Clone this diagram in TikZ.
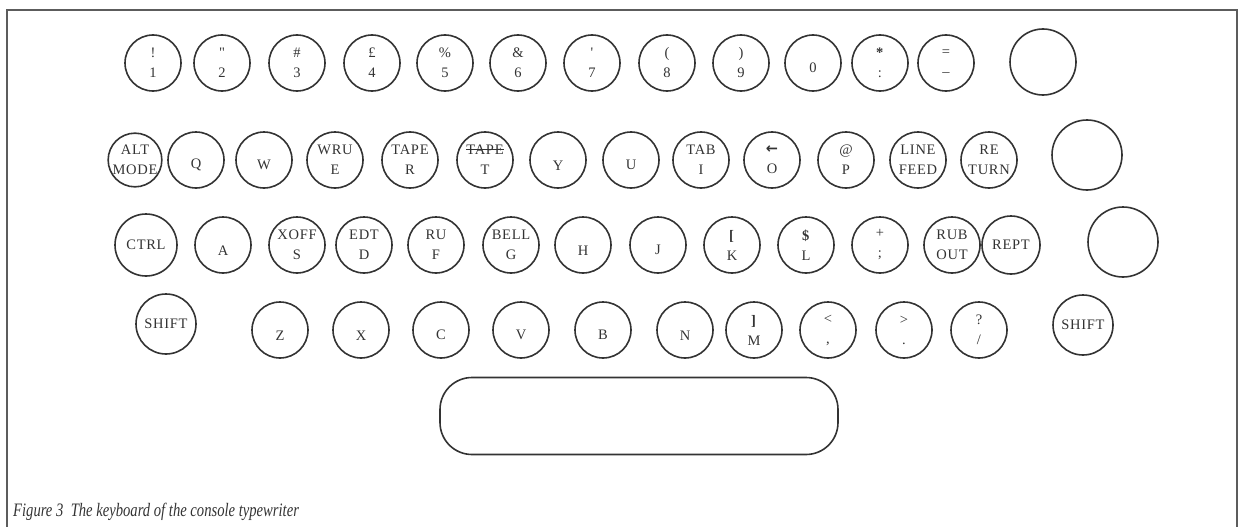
\documentclass[tikz,border=0pt]{standalone}
\usepackage{fontspec}
\usepackage{graphicx}
\setmainfont{Liberation Serif}
\newfontfamily\keyfont[LetterSpace=5]{Liberation Serif}
\newfontfamily\symfont{DejaVu Sans}
\usetikzlibrary{positioning}
\definecolor{ink}{HTML}{333333}
% line through the label of the T key
\newcommand\struckout[1]{\setbox0\hbox{#1}\rlap{\raisebox{0.32em}{\rule{\wd0}{0.8pt}}}\box0}

\begin{document}
\begin{tikzpicture}[x=1pt, y=-1pt,
    key/.style={circle, draw=ink, line width=1.6pt, minimum size=56pt, inner sep=0pt,
                align=center, text=ink, font=\keyfont\fontsize{14.5}{20}\selectfont},
    bigkey/.style={key, minimum size=68pt},
    frame/.style={draw=ink!80, line width=1.6pt}]
\useasboundingbox (0,0) rectangle (1239,527);

% frame
\draw[frame] (7,527) -- (7,10) -- (1237,10) -- (1237,527);

% number row
\foreach \x/\lab/\nm in {153/{!\\1}/k1, 222/{"\\2}/k2, 297/{\#\\3}/k3, 372/{£\\4}/k4,
    445/{\%\\5}/k5, 518/{\&\\6}/k6, 592/{'\\7}/k7, 667/{(\\8}/k8, 741/{)\\9}/k9,
    813/{~\\0}/k0, 880/{\textbf{*}\\:}/kcolon, 946/{=\\\textendash}/kminus}
  \node[key] (\nm) at (\x,63) {\lab};
\node[bigkey, minimum size=66pt] (blankA) at (1043,62) {};

% Q row
\node[key, minimum size=52pt] (altmode) at (135,160) {ALT\\MODE};
\foreach \x/\lab/\nm in {196/{~\\Q}/kQ, 264/{~\\W}/kW, 335/{WRU\\E}/kE, 410/{TAPE\\R}/kR,
    485/{\struckout{TAPE}\\T}/kT, 558/{~\\Y}/kY, 631/{~\\U}/kU, 701/{TAB\\I}/kI,
    772/{{\symfont\bfseries ←}\\O}/kO, 846/{@\\P}/kP, 918/{LINE\\FEED}/linefeed,
    989/{RE\\TURN}/return}
  \node[key] (\nm) at (\x,160) {\lab};
\node[bigkey, minimum size=70pt] (blankB) at (1087,155) {};

% A row
\node[key, minimum size=62pt] (ctrl) at (146,245) {CTRL};
\foreach \x/\lab/\nm in {223/{~\\A}/kA, 297/{XOFF\\S}/kS, 364/{EDT\\D}/kD, 436/{RU\\F}/kF,
    511/{BELL\\G}/kG, 583/{~\\H}/kH, 658/{~\\J}/kJ, 732/{\textbf{[}\\K}/kK,
    806/{\textbf{\$}\\L}/kL, 880/{+\\;}/ksemi, 952/{RUB\\OUT}/rubout}
  \node[key] (\nm) at (\x,245) {\lab};
\node[key, minimum size=58pt] (rept) at (1011,245) {REPT};
\node[bigkey, minimum size=70pt] (blankC) at (1123,242) {};

% Z row
\node[key, minimum size=60pt] (lshift) at (166,324) {SHIFT};
\foreach \x/\lab/\nm in {280/{~\\Z}/kZ, 361/{~\\X}/kX, 441/{~\\C}/kC, 521/{~\\V}/kV,
    603/{~\\B}/kB, 685/{~\\N}/kN, 754/{\textbf{]}\\M}/kM, 828/{<\\,}/kcomma,
    904/{>\\.}/kdot, 979/{?\\/}/kslash}
  \node[key] (\nm) at (\x,330) {\lab};
\node[key, minimum size=60pt] (rshift) at (1083,325) {SHIFT};

% space bar
\node[draw=ink, line width=1.6pt, rounded corners=32pt, minimum width=398pt,
      minimum height=77pt] (space) at (639,416) {};

\node[anchor=base west, inner sep=0pt, text=ink, font=\fontsize{19}{22}\selectfont\itshape]
  (caption) at (13,516) {\scalebox{0.77}[1]{Figure 3\enspace The keyboard of the console typewriter}};
\end{tikzpicture}
\end{document}
